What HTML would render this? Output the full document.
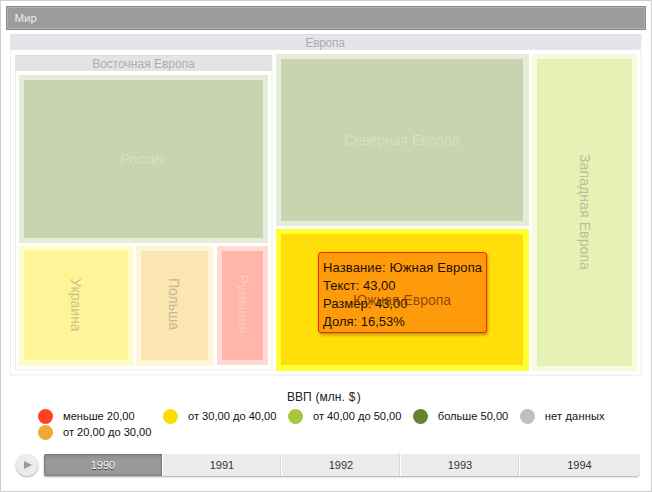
<!DOCTYPE html>
<html><head><meta charset="utf-8">
<style>
html,body{margin:0;padding:0;background:#fff;}
body{width:652px;height:492px;position:relative;overflow:hidden;font-family:"Liberation Sans",sans-serif;}
div{position:absolute;box-sizing:border-box;}
#frame{left:0;top:0;width:652px;height:492px;border:1px solid #cfcfcf;}
#hdr{left:6px;top:6px;width:640px;height:24px;background:#9c9c9c;border:1px solid #898989;box-shadow:inset 0 0 0 1px #b0b0b0;}
#hdr span{position:absolute;left:7.5px;top:5px;font-size:11.5px;line-height:13px;color:#ececec;}
#eu{left:10px;top:34px;width:632px;height:342px;border:solid #f5f5f5;border-width:0 2px 2px 1px;border-left-color:#ededed;}
#euh{left:10px;top:34px;width:631px;height:16px;padding-right:1px;border-top:1px solid #dfdfe3;background:#e5e5e9;color:#adadb1;font-size:12px;letter-spacing:-0.3px;line-height:17px;text-align:center;}
#ee{left:15px;top:55px;width:258px;height:316px;border:solid #f5f5f5;border-width:0 2px 2px 1px;border-left-color:#ededed;}
#eeh{left:15px;top:55px;width:257px;height:16px;border-top:1px solid #dcdcdf;background:#e4e4e7;color:#adadb1;font-size:12px;line-height:17px;text-align:center;}
.t{display:flex;align-items:center;justify-content:center;font-size:14px;white-space:nowrap;}
.t span{display:block;line-height:16px;}
.r span{transform:rotate(90deg);}
#ru{left:19px;top:75px;width:249px;height:168px;background:#c9d3b0;border:5px solid #e6ecda;color:#d7dfc5;}
#ne{left:276px;top:54px;width:253px;height:172px;background:#c9d3b0;border:5px solid #e6ecda;border-right-width:6px;color:#d7dfc5;}
#we{left:532px;top:54px;width:105px;height:317px;background:#e6f1b6;border:5px solid #f5fcde;color:#b8c098;letter-spacing:0.1px;padding-bottom:2px;}
#se{left:276px;top:229px;width:253px;height:142px;background:#ffde0a;border:5px solid #ffff33;border-right-width:6px;border-bottom-width:6px;}
#sel{left:281px;top:234px;width:242px;height:131px;color:rgba(125,55,5,0.85);}
#uk{left:19px;top:246px;width:114px;height:120px;background:#fff498;border:5px solid #fffcc8;border-bottom-width:6px;color:#c8c38a;padding-bottom:1px;}
#pl{left:136px;top:246px;width:78px;height:120px;background:#fbe6b2;border:5px solid #fff5d9;border-right-width:6px;border-bottom-width:6px;color:#c5b794;padding-bottom:3px;}
#ro{left:217px;top:246px;width:51px;height:119px;background:#ffb5aa;border:5px solid #ffdad4;color:#ffc9c0;padding-bottom:3px;}
#tip{left:318px;top:252px;width:169px;height:81px;background:#ff9b0a;border:1px solid #ff2000;border-radius:3px;box-shadow:1px 2px 3px rgba(0,0,0,0.3);color:#1a1000;font-size:13px;line-height:18px;padding:6px 0 0 4px;white-space:nowrap;}
#lt{left:287px;top:390px;white-space:nowrap;word-spacing:0.6px;font-size:12px;line-height:14px;color:#222;}
.c{width:15px;height:15px;border-radius:50%;}
.l{font-size:11.1px;line-height:14px;color:#111;white-space:nowrap;}
#pb{left:16px;top:454px;width:22px;height:22px;border-radius:50%;background:#ececec;box-shadow:0 1px 2px rgba(0,0,0,0.35);}
#pb i{position:absolute;left:8px;top:6.5px;width:0;height:0;border-left:8px solid #9a9a9a;border-top:4.25px solid transparent;border-bottom:4.25px solid transparent;}
#tr{left:44px;top:454px;width:594.5px;height:22px;background:#ececec;border-radius:2px;box-shadow:0 1px 2px rgba(0,0,0,0.35);}
.s{top:0;width:119px;height:22px;font-size:11px;line-height:23px;text-align:center;color:#333;border-right:1px solid #fff;box-shadow:inset -1px 0 0 #d8d8d8;}
#s0{left:0;background:linear-gradient(#8e8e8e,#9a9a9a 30%,#989898);color:#fff;text-shadow:0 1px 0 #3c3c3c;border-radius:2px 0 0 2px;box-shadow:inset 0 0 3px rgba(0,0,0,0.4);}
</style></head><body>
<div id="frame"></div>
<div id="hdr"><span>Мир</span></div>
<div id="eu"></div><div id="euh">Европа</div>
<div id="ee"></div><div id="eeh">Восточная Европа</div>
<div id="ru" class="t"><span>Россия</span></div>
<div id="ne" class="t"><span>Северная Европа</span></div>
<div id="we" class="t r"><span>Западная Европа</span></div>
<div id="se"></div>
<div id="uk" class="t r"><span>Украина</span></div>
<div id="pl" class="t r"><span>Польша</span></div>
<div id="ro" class="t r"><span>Румыния</span></div>
<div id="tip"><span style="letter-spacing:0.12px">Название: Южная Европа</span><br>Текст: 43,00<br>Размер: 43,00<br>Доля: 16,53%</div>
<div id="sel" class="t"><span>Южная Европа</span></div>
<div id="lt">ВВП (млн. $<span style="margin-left:1.3px">)</span></div>
<div class="c" style="left:38px;top:409px;background:#ff4026"></div><div class="l" style="left:63px;top:409px">меньше 20,00</div>
<div class="c" style="left:38px;top:425px;background:#edaa33"></div><div class="l" style="left:63px;top:425px">от 20,00 до 30,00</div>
<div class="c" style="left:163px;top:409px;background:#ffdc00"></div><div class="l" style="left:188px;top:409px">от 30,00 до 40,00</div>
<div class="c" style="left:288px;top:409px;background:#a9c63f"></div><div class="l" style="left:313px;top:409px">от 40,00 до 50,00</div>
<div class="c" style="left:413px;top:409px;background:#658331"></div><div class="l" style="left:437.8px;top:409px">больше 50,00</div>
<div class="c" style="left:520px;top:409px;background:#bfbfbf"></div><div class="l" style="left:544.8px;top:409px;letter-spacing:0.15px">нет данных</div>
<div id="pb"><i></i></div>
<div id="tr">
<div class="s" id="s0">1990</div>
<div class="s" style="left:119px">1991</div>
<div class="s" style="left:238px">1992</div>
<div class="s" style="left:357px">1993</div>
<div class="s" style="left:476px;border-right:none;box-shadow:none">1994</div>
</div>
</body></html>
